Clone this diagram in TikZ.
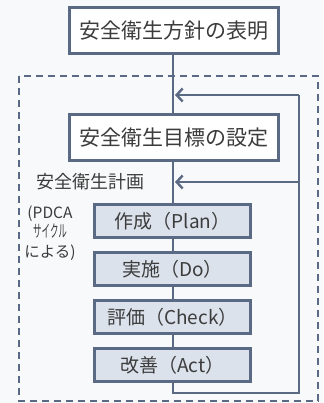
\documentclass[tikz,border=0pt]{standalone}
\usepackage{fontspec}
\usepackage{graphicx}
\newfontfamily\jpfont{Noto Sans CJK JP}
\usetikzlibrary{arrows.meta}
\definecolor{linecol}{HTML}{5A6A84}
\definecolor{textcol}{HTML}{3C3C3C}
\definecolor{stepfill}{HTML}{DCE2EC}
\definecolor{paper}{HTML}{F8F9FA}

\begin{document}
\begin{tikzpicture}[x=1pt, y=-1pt, >={Straight Barb[length=6pt, width=13pt, line width=2.4pt]},
	every box/.style={draw=linecol, line width=3pt, fill=white, text=textcol, inner sep=0pt, minimum width=209pt, minimum height=46pt, font=\jpfont\fontsize{21}{24}\selectfont},
	every step/.style={every box, fill=stepfill, minimum width=156pt, minimum height=33pt, font=\jpfont\fontsize{19}{22}\selectfont},
	link/.style={draw=linecol, line width=2.8pt}]
	
	\fill [paper] (0,0) rectangle (323,403);
	\useasboundingbox (0,0) rectangle (323,403);
	
	\draw [linecol, line width=1.4pt, dash pattern=on 7pt off 5pt] (19,76) rectangle (318,401);
	
	\node [every box] (policy) at (174,31) {安全衛生方針の表明};
	\node [every box] (target) at (174,137.5) {安全衛生目標の設定};
	
	\foreach \t [count=\y] in {作成（Plan）, 実施（Do）, 評価（Check）, 改善（Act）}
	\node [every step] (step-\y) at (172.5,173+48*\y) {\t};
	
	\coordinate (join-1) at (175,95);
	\coordinate (join-2) at (175,182);
	\coordinate (loop-tr) at (299,95);
	\coordinate (loop-mr) at (299,182);
	\coordinate (loop-br) at (299,393);
	\coordinate (loop-bl) at (173,393);
	
	\draw [link] (policy.south -| 173,0) -- (target.north -| 173,0);
	\draw [link] (target.south -| 173,0) -- (step-1.north -| 173,0);
	
	\foreach \i [count=\j from 2] in {1,...,3}
	\draw [link] (step-\i.south -| 173,0) -- (step-\j.north -| 173,0);
	
	\draw [link, line join=miter] (step-4.south -| 173,0) -- (loop-bl) -- (loop-br) -- (loop-tr);
	
	\draw [link, ->] (loop-tr) -- (join-1);
	\draw [link, ->] (loop-mr) -- (join-2);
	
	\node [anchor=west, text=textcol, font=\jpfont\fontsize{18}{20}\selectfont] (plan) at (33,182) {安全衛生計画};
	
	\node [align=center, text=textcol, inner sep=0pt, font=\jpfont\fontsize{15.5}{19.5}\selectfont] (cycle) at (50,233) {(PDCA\\{\fontsize{17}{19.5}\selectfont\scalebox{0.5}[1]{サイクル}}\\による)};
	\end{tikzpicture}
\end{document}
